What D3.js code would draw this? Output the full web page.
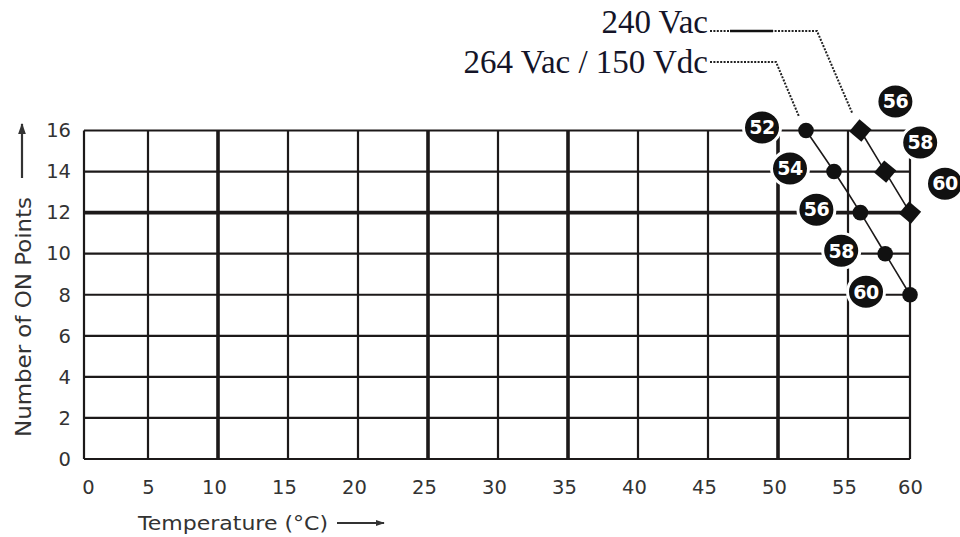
<!DOCTYPE html>
<html>
<head>
<meta charset="utf-8">
<script src="https://cdn.jsdelivr.net/npm/d3@7"></script>
<style>
  body { margin: 0; background: #fff; }
  svg { display: block; }
</style>
</head>
<body>
<div id="chart"></div>
<script>
// data
const xTicks = [0, 5, 10, 15, 20, 25, 30, 35, 40, 45, 50, 55, 60];
const yTicks = [0, 2, 4, 6, 8, 10, 12, 14, 16];
const thickX = [10, 25, 35, 50];
const thickY = [12];

const temps264 = [52, 54, 56, 58, 60];
const points264 = [16, 14, 12, 10, 8];
const temps240 = [56, 58, 60];
const points240 = [16, 14, 12];

const name264 = "264 Vac / 150 Vdc";
const name240 = "240 Vac";

let width = 960;
let height = 537;
let ink = "#1c1919";

let svg = d3
  .select("#chart")
  .append("svg")
  .attr("width", width)
  .attr("height", height)
  .style("background", "#fff");

// the drawn grid is not quite even, so the scale is piecewise
let x = d3.scaleLinear().domain([0, 5, 55, 60]).range([84, 148, 848, 910]);
let y = d3.scaleLinear().domain([0, 16]).range([459, 130.5]);

// grid
let grid = svg.append("g");
grid
  .selectAll("line.v")
  .data(xTicks)
  .enter()
  .append("line")
  .attr("class", "v")
  .attr("x1", (d) => x(d))
  .attr("x2", (d) => x(d))
  .attr("y1", y(16))
  .attr("y2", y(0))
  .attr("stroke", ink)
  .attr("stroke-width", (d) => (thickX.includes(d) ? 3.6 : 2.2));

grid
  .selectAll("line.h")
  .data(yTicks)
  .enter()
  .append("line")
  .attr("class", "h")
  .attr("x1", x(0))
  .attr("x2", x(60))
  .attr("y1", (d) => y(d))
  .attr("y2", (d) => y(d))
  .attr("stroke", ink)
  .attr("stroke-width", (d) => (thickY.includes(d) ? 3.6 : 2.2));

// axes (labels only)
let xAxis = d3.axisBottom(x).tickValues(xTicks).tickSize(0).tickPadding(0);
let gx = svg.append("g").attr("transform", "translate(0,480)").call(xAxis);
gx.select(".domain").remove();
gx.selectAll("text")
  .attr("dx", (d) => (d == 0 ? 4 : d == 5 || d == 60 ? 0 : -4))
  .attr("dy", "0.71em")
  .attr("y", 0)
  .style("font-family", "DejaVu Sans")
  .style("font-size", "19.5px")
  .attr("fill", "#333");

let yAxis = d3.axisLeft(y).tickValues(yTicks).tickSize(0).tickPadding(0);
let gy = svg.append("g").attr("transform", "translate(71,0)").call(yAxis);
gy.select(".domain").remove();
gy.selectAll("text")
  .style("font-family", "DejaVu Sans")
  .style("font-size", "19.5px")
  .attr("fill", "#333");

// axis titles + arrows
svg
  .append("text")
  .attr("x", 233)
  .attr("y", 530)
  .attr("text-anchor", "middle")
  .attr("textLength", 190)
  .attr("lengthAdjust", "spacingAndGlyphs")
  .style("font-family", "DejaVu Sans")
  .style("font-size", "20px")
  .attr("fill", "#333")
  .text("Temperature (\u00b0C)");

svg
  .append("text")
  .attr("transform", "translate(31,317) rotate(-90)")
  .attr("text-anchor", "middle")
  .attr("textLength", 240)
  .attr("lengthAdjust", "spacingAndGlyphs")
  .style("font-family", "DejaVu Sans")
  .style("font-size", "20.5px")
  .attr("fill", "#333")
  .text("Number of ON Points");

svg
  .append("defs")
  .append("marker")
  .attr("id", "arrow")
  .attr("viewBox", "0 0 10 10")
  .attr("refX", 9)
  .attr("refY", 5)
  .attr("markerWidth", 5)
  .attr("markerHeight", 5)
  .attr("orient", "auto")
  .append("path")
  .attr("d", "M0,1.5 L10,5 L0,8.5 Z")
  .attr("fill", "#333");

svg
  .append("line")
  .attr("x1", 337)
  .attr("x2", 384)
  .attr("y1", 523)
  .attr("y2", 523)
  .attr("stroke", "#333")
  .attr("stroke-width", 1.8)
  .attr("marker-end", "url(#arrow)");

svg
  .append("line")
  .attr("x1", 22)
  .attr("x2", 22)
  .attr("y1", 178)
  .attr("y2", 124)
  .attr("stroke", "#333")
  .attr("stroke-width", 2.2)
  .attr("marker-end", "url(#arrow)");

// curves
let curve = d3
  .line()
  .x((d) => x(d[0]))
  .y((d) => y(d[1]))
  .curve(d3.curveCatmullRom.alpha(0.5));

let data264 = temps264.map((t, i) => [t, points264[i]]);
let data240 = temps240.map((t, i) => [t, points240[i]]);

[data264, data240].forEach((d) => {
  svg
    .append("path")
    .datum(d)
    .attr("d", curve)
    .attr("fill", "none")
    .attr("stroke", ink)
    .attr("stroke-width", 1.6);
});

// leader lines from the names
let lead240 = [
  [710, 31],
  [817, 31],
  [x(temps240[0]) - 8, y(points240[0]) - 17],
];
let lead264 = [
  [710, 62],
  [776, 62],
  [x(temps264[0]) - 7, y(points264[0]) - 14],
];
[lead240, lead264].forEach((pts) => {
  svg
    .append("path")
    .attr("d", d3.line()(pts))
    .attr("fill", "none")
    .attr("stroke", "#222")
    .attr("stroke-width", 2)
    .attr("stroke-dasharray", "2,1.4");
});
svg
  .append("line")
  .attr("x1", 730)
  .attr("x2", 773)
  .attr("y1", 31)
  .attr("y2", 31)
  .attr("stroke", "#111")
  .attr("stroke-width", 2.6);

svg
  .append("text")
  .attr("x", 708)
  .attr("y", 33)
  .attr("text-anchor", "end")
  .style("font-family", "Liberation Serif")
  .style("font-size", "33px")
  .attr("fill", "#141428")
  .text(name240);

svg
  .append("text")
  .attr("x", 708)
  .attr("y", 72.5)
  .attr("text-anchor", "end")
  .style("font-family", "Liberation Serif")
  .style("font-size", "33px")
  .attr("fill", "#141428")
  .text(name264);

// temperature badges
function badges(data, dx, dy) {
  let g = svg
    .append("g")
    .selectAll("g")
    .data(data)
    .enter()
    .append("g")
    .attr("transform", (d) => `translate(${x(d[0]) + dx},${y(d[1]) + dy})`);
  g.append("ellipse")
    .attr("rx", 18.5)
    .attr("ry", 17.5)
    .attr("fill", "#111")
    .attr("stroke", "#fff")
    .attr("stroke-width", 3);
  g.append("text")
    .attr("text-anchor", "middle")
    .attr("dy", "0.36em")
    .style("font-family", "DejaVu Sans")
    .style("font-weight", "bold")
    .style("font-size", "19px")
    .style("letter-spacing", "-0.5px")
    .attr("fill", "#fff")
    .text((d) => d[0]);
}
badges(data264, -44, -3);
badges(data240, 35, -29);

// markers
svg
  .append("g")
  .selectAll("circle")
  .data(data264)
  .enter()
  .append("circle")
  .attr("cx", (d) => x(d[0]))
  .attr("cy", (d) => y(d[1]))
  .attr("r", 7.8)
  .attr("fill", "#111");

svg
  .append("g")
  .selectAll("path")
  .data(data240)
  .enter()
  .append("path")
  .attr("d", d3.symbol().type(d3.symbolSquare).size(250))
  .attr("transform", (d) => `translate(${x(d[0])},${y(d[1])}) rotate(40)`)
  .attr("fill", "#111");
</script>
</body>
</html>
